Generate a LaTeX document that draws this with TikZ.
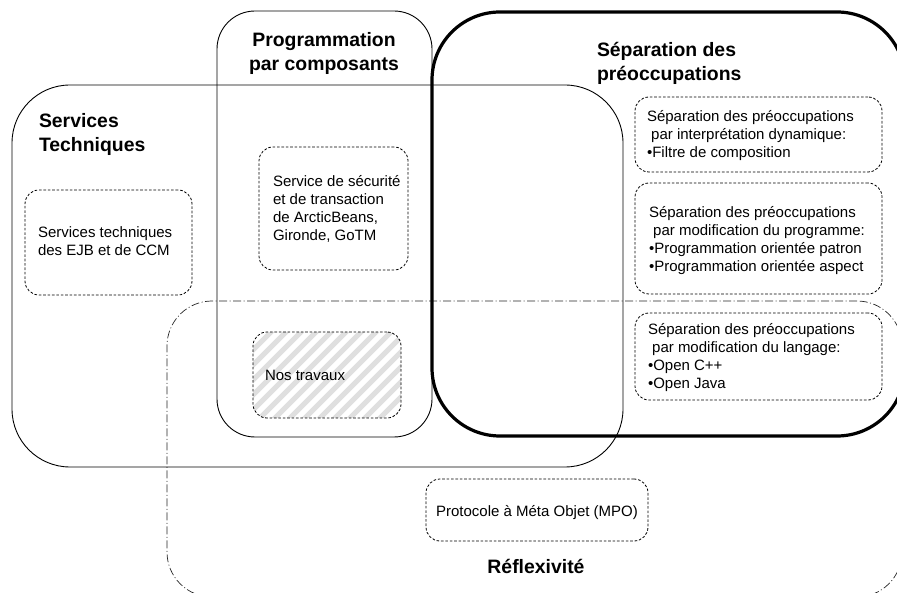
\documentclass[tikz,border=0pt]{standalone}
\usepackage{fontspec}
\setmainfont{Liberation Sans}
\usetikzlibrary{fit}
\newcommand\mylines[1]{\begin{tabular}[t]{@{}l@{}}#1\end{tabular}}
\newcommand\mylinesc[1]{\begin{tabular}[t]{@{}c@{}}#1\end{tabular}}
\begin{document}
\begin{tikzpicture}[x=1pt,y=-1pt,
  body/.style={font=\fontsize{15}{18}\selectfont, inner sep=0, outer sep=0, anchor=base west},
  title/.style={font=\fontsize{19.4}{23.5}\selectfont\bfseries, inner sep=0, outer sep=0},
  region/.style={draw, line width=0.9pt, inner sep=0, outer sep=0},
  dbox/.style={draw, line width=0.8pt, dash pattern=on 2.6pt off 1.8pt, rounded corners=14pt, inner sep=0, outer sep=0},
  hatch/.style={line width=5pt, draw=gray!25}
]
\useasboundingbox (0,0) rectangle (897,593);
\clip (0,0) rectangle (897,593);

% Reflexivite region
\node[region, draw=black!85, line width=0.7pt, dash pattern=on 8pt off 2.5pt on 1pt off 2.5pt,
      rounded corners=45pt, fit={(167,301) (902,597)}] (refl) {};

% hatched fill of "Nos travaux"
\begin{scope}
  \clip[rounded corners=14pt] (253,332) rectangle (401,418);
  \foreach \i in {-7,...,11}
    \draw[hatch] (253+\i*15,425) -- ++(100,-100);
\end{scope}

% regions
\node[region, rounded corners=58pt, fit={(12,85) (623,467)}] (serv) {};
\node[region, rounded corners=38pt, fit={(217,11) (432,437)}] (prog) {};
\node[region, line width=3.2pt, rounded corners=68pt, fit={(432,12) (905,436)}] (sep) {};

% dashed boxes
\node[dbox, fit={(25,190) (192,295)}] (ejb) {};
\node[dbox, fit={(259,147) (408,270)}] (secu) {};
\node[dbox, fit={(253,332) (401,418)}] (nos) {};
\node[dbox, fit={(635,97) (882,172)}] (dyn) {};
\node[dbox, fit={(635,183) (882,294)}] (progm) {};
\node[dbox, fit={(635,313) (882,400)}] (lang) {};
\node[dbox, fit={(426,479) (648,541)}] (mpo) {};

% titles
\node[title, anchor=base west] (tserv) at (39,128) {\mylines{Services\\Techniques}};
\node[title, anchor=base] (tprog) at (324,47) {\mylinesc{Programmation\\par composants}};
\node[title, anchor=base west] (tsep) at (597,57) {\mylines{Séparation des\\préoccupations}};
\node[title, anchor=base] (trefl) at (536,573) {Réflexivité};

% texts
\node[body] (xejb) at (38,238) {\mylines{Services techniques\\des EJB et de CCM}};
\node[body] (xsecu) at (273,187) {\mylines{Service de sécurité\\et de transaction\\de ArcticBeans,\\Gironde, GoTM}};
\node[body] (xnos) at (265,381) {Nos travaux};
\node[body] (xdyn) at (647,122) {\mylines{Séparation des préoccupations\\\ par interprétation dynamique:\\•Filtre de composition}};
\node[body] (xprogm) at (649,218) {\mylines{Séparation des préoccupations\\\ par modification du programme:\\•Programmation orientée patron\\•Programmation orientée aspect}};
\node[body] (xlang) at (648,335) {\mylines{Séparation des préoccupations\\\ par modification du langage:\\•Open C++\\•Open Java}};
\node[body, anchor=base] (xmpo) at (537,516) {Protocole à Méta Objet (MPO)};
\end{tikzpicture}
\end{document}
